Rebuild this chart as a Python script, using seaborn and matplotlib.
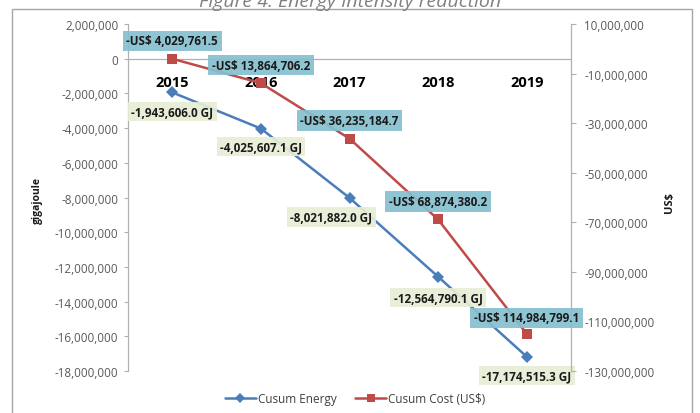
import matplotlib
matplotlib.use("Agg")
import matplotlib.pyplot as plt
import seaborn as sns
import pandas as pd
from matplotlib.lines import Line2D
from matplotlib.patches import Rectangle
from matplotlib.ticker import StrMethodFormatter

# ---- data ----
years = ["2015", "2016", "2017", "2018", "2019"]
cusum_energy = [-1943606.0, -4025607.1, -8021882.0, -12564790.1, -17174515.3]
cusum_cost = [-4029761.5, -13864706.2, -36235184.7, -68874380.2, -114984799.1]
left_ticks = [2000000, 0, -2000000, -4000000, -6000000, -8000000, -10000000,
              -12000000, -14000000, -16000000, -18000000]
right_ticks = [10000000, -10000000, -30000000, -50000000, -70000000,
               -90000000, -110000000, -130000000]
series_names = ["Cusum Energy", "Cusum Cost (US$)"]

sns.set_style("white")
plt.rcParams["font.family"] = ["Open Sans", "DejaVu Sans"]
plt.rcParams["axes.unicode_minus"] = False

BLUE = "#4A7EBB"
RED = "#BE4B48"
GRAY = "#595959"
AXC = "#b0b0b0"

df = pd.DataFrame({"pos": range(len(years)), "year": years,
                   "energy": cusum_energy, "cost": cusum_cost})

W, H = 700, 414
fig = plt.figure(figsize=(7, 4.14), dpi=100)
ax = fig.add_axes([128 / W, 1 - 372 / H, (571 - 128) / W, (372 - 25) / H])
ax2 = ax.twinx()

sns.lineplot(data=df, x="pos", y="energy", ax=ax, color=BLUE, marker="D",
             markersize=6.5, markeredgewidth=0, linewidth=1.8, zorder=3)
sns.lineplot(data=df, x="pos", y="cost", ax=ax2, color=RED, marker="s",
             markersize=7.5, markeredgewidth=0, linewidth=1.8, zorder=3)

ax.set_xlim(-0.5, len(years) - 0.5)
ax.set_ylim(left_ticks[-1], left_ticks[0])
ax2.set_ylim(right_ticks[-1], right_ticks[0])

# left axis
ax.set_yticks(left_ticks)
ax.yaxis.set_major_formatter(StrMethodFormatter("{x:,.0f}"))
ax.tick_params(axis="y", direction="out", length=3, width=0.8, color=AXC,
               labelsize=8.4, labelcolor=GRAY, pad=4)
# category axis at zero
ax.spines["bottom"].set_position(("data", 0))
ax.set_xticks(range(len(years)), labels=years)
ax.set_xticks([i + 0.5 for i in range(len(years) - 1)], minor=True)
ax.tick_params(axis="x", which="major", length=0, pad=12, labelsize=10.5,
               labelcolor="black")
ax.tick_params(axis="x", which="minor", direction="in", length=3.5,
               width=0.8, color=AXC)
for t in ax.get_xticklabels():
    t.set_fontweight("bold")
for s in ["top", "right"]:
    ax.spines[s].set_visible(False)
for s in ["left", "bottom"]:
    ax.spines[s].set_color(AXC)
    ax.spines[s].set_linewidth(0.9)
ax.set_xlabel("")
ax.set_ylabel("")

# right axis
ax2.set_yticks(right_ticks)
ax2.yaxis.set_major_formatter(StrMethodFormatter("{x:,.0f}"))
ax2.tick_params(axis="y", direction="out", length=3.5, width=0.8, color=AXC,
                labelsize=8.4, labelcolor=GRAY, pad=6)
for s in ["top", "left", "bottom"]:
    ax2.spines[s].set_visible(False)
ax2.spines["right"].set_color(AXC)
ax2.spines["right"].set_linewidth(0.9)
ax2.set_ylabel("")

for a in (ax, ax2):
    lg = a.get_legend()
    if lg is not None:
        lg.remove()

# data labels
px = 0.72  # points per pixel at 100 dpi
energy_dx = [0, 0, -18, 0, 0]
energy_dy = [-19, -18, -19, -21, -19]
cost_dy = [18, 18, 18, 18, 16]
for i, v in enumerate(cusum_energy):
    ax.annotate(f"{v:,.1f} GJ", (i, v),
                xytext=(energy_dx[i] * px, energy_dy[i] * px),
                textcoords="offset points", ha="center", va="center",
                fontsize=8.4, fontweight="bold", color="#1a1a1a", zorder=5,
                bbox=dict(boxstyle="square,pad=0.28", fc="#E6EDD5", ec="none",
                          alpha=0.92))
for i, v in enumerate(cusum_cost):
    ax2.annotate(f"-US$ {abs(v):,.1f}", (i, v),
                 xytext=(0, cost_dy[i] * px), textcoords="offset points",
                 ha="center", va="center", fontsize=8.4, fontweight="bold",
                 color="#1a1a1a", zorder=5,
                 bbox=dict(boxstyle="square,pad=0.32", fc="#86BFCF", ec="none",
                           alpha=0.92))

# axis titles
fig.text(37 / W, 1 - 201 / H, "gigajoule", rotation=90, ha="center",
         va="center", fontsize=7.5, fontweight="bold", color="#1a1a1a")
fig.text(670 / W, 1 - 203 / H, "US$", rotation=90, ha="center",
         va="center", fontsize=8, fontweight="bold", color="#1a1a1a")

# title (cut off at the top, as in the reference)
fig.text(0.5, 1 - 7 / H, "Figure 4. Energy Intensity reduction", ha="center",
         va="baseline", fontsize=14, style="italic", color="#808080")

# frame
fig.patches.append(Rectangle((12 / W, -0.05), (692 - 12) / W,
                             1.05 - 10 / H, transform=fig.transFigure,
                             fill=False, ec="#a6a6a6", lw=1.0, zorder=0))
handles = [
    Line2D([], [], color=BLUE, marker="D", markersize=5, markeredgewidth=0,
           linewidth=1.8),
    Line2D([], [], color=RED, marker="s", markersize=6, markeredgewidth=0,
           linewidth=1.8),
]
fig.legend(handles, series_names, loc="center",
           bbox_to_anchor=(355 / W, 1 - 400 / H), ncol=2, frameon=False,
           fontsize=8.5, handlelength=2.6, handletextpad=0.15,
           columnspacing=1.6, labelcolor="#404040")

fig.savefig("out.png", dpi=100)
